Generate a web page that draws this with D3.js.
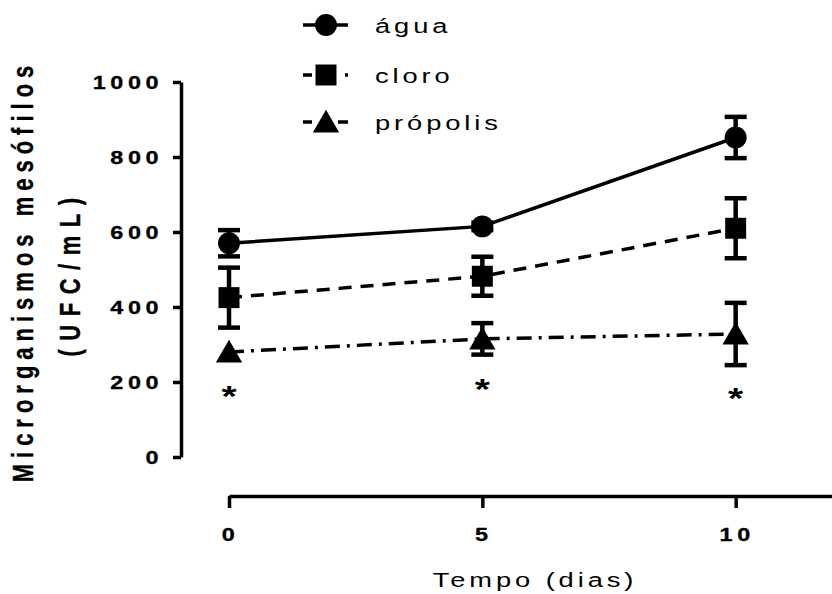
<!DOCTYPE html>
<html>
<head>
<meta charset="utf-8">
<script src="https://cdn.jsdelivr.net/npm/d3@7"></script>
<style>
  body { margin: 0; background: #fff; }
  text { font-family: "Liberation Sans", Arial, sans-serif; fill: #000; }
</style>
</head>
<body>
<svg id="chart" width="832" height="594"></svg>
<script>
// data
var days = [0, 5, 10];
var series = ["água", "cloro", "própolis"];
var aguaMean = [570, 615, 852];
var aguaErr = [35, 10, 55];
var cloroMean = [425, 482, 610];
var cloroErr = [80, 52, 80];
var propolisMean = [280, 315, 328];
var propolisErr = [0, 42, 83];
var sigY = [177, 196, 171];
var yTicks = [0, 200, 400, 600, 800, 1000];
var xTicks = [0, 5, 10];

var svg = d3.select('#chart');
var sx = 1.3; // glyphs in the picture are stretched sideways

var x = d3.scaleLinear().domain([0, 12]).range([229, 837]);
var y = d3.scaleLinear().domain([0, 1000]).range([457, 82]);

function placeText(sel, px, py, rot) {
    sel.attr('transform', 'translate(' + px + ',' + py + ') scale(' + sx + ',1)' + (rot ? ' rotate(' + rot + ')' : ''));
    return sel;
}

// y axis
var yAxis = svg.append('g')
    .attr('transform', 'translate(181,0)')
    .call(d3.axisLeft(y).tickValues(yTicks).tickSize(8).tickSizeOuter(0).tickFormat(''));
yAxis.selectAll('path, line').attr('stroke', '#000').attr('stroke-width', 3.5);

yTicks.forEach(function (t) {
    placeText(svg.append('text'), 163, y(t) + 6.5)
        .attr('text-anchor', 'end')
        .attr('font-size', 18)
        .attr('font-weight', 'bold')
        .attr('letter-spacing', 3.5)
        .attr('stroke', '#000').attr('stroke-width', 0.3)
        .text(t);
});

// x axis
var xAxis = svg.append('g')
    .attr('transform', 'translate(0,496)')
    .call(d3.axisBottom(x).tickValues(xTicks).tickSize(12).tickSizeOuter(0).tickFormat(''));
xAxis.selectAll('path, line').attr('stroke', '#000').attr('stroke-width', 3.5);

xTicks.forEach(function (t) {
    placeText(svg.append('text'), x(t) + 1.5, 541)
        .attr('text-anchor', 'middle')
        .attr('font-size', 18)
        .attr('font-weight', 'bold')
        .attr('letter-spacing', 3.5)
        .attr('stroke', '#000').attr('stroke-width', 0.3)
        .text(t);
});

// x title is centred on the whole axis (0 to 12)
placeText(svg.append('text'), x(6) + 2, 587)
    .attr('text-anchor', 'middle')
    .attr('font-size', 21)
    .attr('letter-spacing', 3)
    .text('Tempo (dias)');

// y title, two lines
placeText(svg.append('text'), 33, 271, -90)
    .attr('text-anchor', 'middle')
    .attr('font-size', 22)
    .attr('font-weight', 'bold')
    .attr('letter-spacing', 6)
    .attr('stroke', '#000').attr('stroke-width', 0.3)
    .text('Microrganismos mesófilos');
placeText(svg.append('text'), 80, 273, -90)
    .attr('text-anchor', 'middle')
    .attr('font-size', 22)
    .attr('font-weight', 'bold')
    .attr('letter-spacing', 8.5)
    .attr('stroke', '#000').attr('stroke-width', 0.3)
    .text('(UFC/mL)');

var styles = [
    { mean: aguaMean, err: aguaErr, dash: null, legendDash: null, shape: d3.symbolCircle, size: 380 },
    { mean: cloroMean, err: cloroErr, dash: '13,9', legendDash: '9,33,3,100', shape: d3.symbolSquare, size: 440 },
    { mean: propolisMean, err: propolisErr, dash: '15,7,3,7', legendDash: '9,26,10', shape: d3.symbolTriangle, size: 300 }
];

var line = d3.line()
    .x(function (d) { return x(d[0]); })
    .y(function (d) { return y(d[1]); });

styles.forEach(function (s) {
    var pts = days.map(function (d, i) { return [d, s.mean[i], s.err[i]]; });

    svg.append('path')
        .datum(pts)
        .attr('d', line)
        .attr('fill', 'none')
        .attr('stroke', '#000')
        .attr('stroke-width', 3.5)
        .attr('stroke-dasharray', s.dash);

    var eb = svg.append('g').selectAll('g')
        .data(pts.filter(function (p) { return p[2] > 0; }))
        .enter().append('g');
    eb.append('line')
        .attr('x1', function (d) { return x(d[0]); })
        .attr('x2', function (d) { return x(d[0]); })
        .attr('y1', function (d) { return y(d[1] + d[2]); })
        .attr('y2', function (d) { return y(d[1] - d[2]); })
        .attr('stroke', '#000').attr('stroke-width', 4.5);
    [1, -1].forEach(function (sign) {
        eb.append('line')
            .attr('x1', function (d) { return x(d[0]) - 11; })
            .attr('x2', function (d) { return x(d[0]) + 11; })
            .attr('y1', function (d) { return y(d[1] + sign * d[2]); })
            .attr('y2', function (d) { return y(d[1] + sign * d[2]); })
            .attr('stroke', '#000').attr('stroke-width', 4.5);
    });

    svg.append('g').selectAll('path')
        .data(pts)
        .enter().append('path')
        .attr('d', d3.symbol().type(s.shape).size(s.size))
        .attr('transform', function (d) {
            var dy = s.shape === d3.symbolTriangle ? 3 : 0;
            return 'translate(' + x(d[0]) + ',' + (y(d[1]) + dy) + ')';
        })
        .attr('fill', '#000');
});

// significance marks
days.forEach(function (d, i) {
    placeText(svg.append('text'), x(d), y(sigY[i]) + 15.5)
        .attr('text-anchor', 'middle')
        .attr('font-size', 30)
        .attr('font-weight', 'bold')
        .text('*');
});

// legend
var legendY = [25, 75, 122];
styles.forEach(function (s, i) {
    var ly = legendY[i];
    svg.append('line')
        .attr('x1', 303).attr('x2', 348)
        .attr('y1', ly).attr('y2', ly)
        .attr('stroke', '#000').attr('stroke-width', 3.5)
        .attr('stroke-dasharray', s.legendDash);
    svg.append('path')
        .attr('d', d3.symbol().type(s.shape).size(s.size))
        .attr('transform', 'translate(326,' + (ly + (s.shape === d3.symbolTriangle ? 3 : 0)) + ')')
        .attr('fill', '#000');
    placeText(svg.append('text'), 375, ly + 8)
        .attr('font-size', 21)
        .attr('letter-spacing', 3)
        .text(series[i]);
});
</script>
</body>
</html>
